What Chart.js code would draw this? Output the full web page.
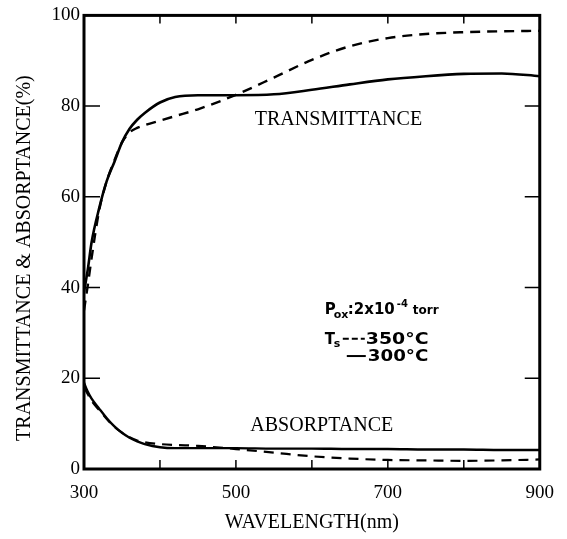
<!DOCTYPE html>
<html>
<head>
<meta charset="utf-8">
<script src="https://cdn.jsdelivr.net/npm/chart.js@4.4.1/dist/chart.umd.min.js"></script>
<style>
  html, body { margin: 0; padding: 0; background: #fff; }
  #wrap { width: 567px; height: 539px; }
</style>
</head>
<body>
<div id="wrap"><canvas id="spectra_chart" width="567" height="539"></canvas></div>
<script>
// wavelength grid (nm) and curves (%)
var wavelengths = [300, 305, 310, 320, 330, 340, 350, 360, 370, 380, 400, 420, 450, 500, 550, 600, 650, 700, 750, 800, 850, 900];
var trans_300 = [39, 44, 50, 57.5, 63.5, 67.7, 72, 75, 77, 78.5, 80.8, 82, 82.4, 82.4, 82.6, 83.6, 84.8, 85.9, 86.6, 87.1, 87.2, 86.6];
var trans_350 = [35, 40.5, 46.5, 57, 63.5, 68, 72, 74.2, 75.2, 75.8, 76.8, 77.8, 79.3, 82.5, 86.3, 90.2, 93.2, 95, 95.9, 96.3, 96.5, 96.6];
var abs_300 = [19, 17, 15.5, 13.3, 11.2, 9.4, 8, 6.9, 6.1, 5.5, 4.8, 4.6, 4.6, 4.6, 4.5, 4.5, 4.4, 4.4, 4.3, 4.3, 4.2, 4.2];
var abs_350 = [18, 16.5, 15, 13, 11, 9.3, 8, 7, 6.3, 5.9, 5.5, 5.3, 5.1, 4.4, 3.6, 2.8, 2.3, 2.0, 1.9, 1.8, 1.9, 2.1];

var x_labels = [300, 500, 700, 900];
var y_ticks = [0, 20, 40, 60, 80, 100];

function to_points(values) {
    var pts = [];
    for (var i = 0; i < wavelengths.length; i++) {
        pts.push({ x: wavelengths[i], y: values[i] });
    }
    return pts;
}

var serif = '"Liberation Serif", "DejaVu Serif", serif';
var sans = '"DejaVu Sans", "Liberation Sans", sans-serif';

// text stretched a little sideways, the scan's lettering is wide
function wide_text(ctx, text, x, y, sx) {
    ctx.save();
    ctx.translate(x, y);
    ctx.scale(sx, 1);
    ctx.fillText(text, 0, 0);
    ctx.restore();
}

// frame, inward ticks and the text annotations
var frame_plugin = {
    id: 'frame',
    afterDraw: function (chart) {
        var ctx = chart.ctx;
        var a = chart.chartArea;
        var xs = chart.scales.x;
        var ys = chart.scales.y;
        ctx.save();
        ctx.strokeStyle = '#000';
        ctx.lineWidth = 3;
        ctx.strokeRect(a.left, a.top, a.right - a.left, a.bottom - a.top);

        ctx.lineWidth = 1.5;
        ctx.beginPath();
        xs.ticks.forEach(function (t) {
            if (t.value <= xs.min || t.value >= xs.max) return;
            var px = xs.getPixelForValue(t.value);
            ctx.moveTo(px, a.bottom); ctx.lineTo(px, a.bottom - 9);
            ctx.moveTo(px, a.top); ctx.lineTo(px, a.top + 8);
        });
        ys.ticks.forEach(function (t) {
            if (t.value <= ys.min || t.value >= ys.max) return;
            var py = ys.getPixelForValue(t.value);
            ctx.moveTo(a.left, py); ctx.lineTo(a.left + 16, py);
            ctx.moveTo(a.right, py); ctx.lineTo(a.right - 15, py);
        });
        ctx.stroke();

        ctx.fillStyle = '#000';

        // y axis title
        ctx.save();
        ctx.translate(25, ys.getPixelForValue(46.5));
        ctx.rotate(-Math.PI / 2);
        ctx.font = '20px ' + serif;
        ctx.textAlign = 'center';
        ctx.textBaseline = 'middle';
        ctx.fillText('TRANSMITTANCE & ABSORPTANCE(%)', 0, 0);
        ctx.restore();

        // curve names
        ctx.font = '20px ' + serif;
        ctx.textAlign = 'center';
        ctx.textBaseline = 'middle';
        ctx.fillText('TRANSMITTANCE', xs.getPixelForValue(635), ys.getPixelForValue(77));
        ctx.fillText('ABSORPTANCE', xs.getPixelForValue(613), ys.getPixelForValue(9.6));

        // condition legend
        ctx.textAlign = 'left';
        ctx.textBaseline = 'alphabetic';
        var lx = xs.getPixelForValue(617);
        var l1 = ys.getPixelForValue(34.2);
        var l2 = ys.getPixelForValue(27.6);
        var l3 = ys.getPixelForValue(23.8);

        ctx.font = 'bold 15px ' + sans;
        ctx.fillText('P', lx, l1);
        ctx.font = 'bold 11px ' + sans;
        ctx.fillText('ox', lx + 9, l1 + 4);
        ctx.font = 'bold 15px ' + sans;
        ctx.fillText(':', lx + 23, l1);
        ctx.fillText('2x10', lx + 29, l1);
        ctx.font = 'bold 10px ' + sans;
        ctx.fillText('-4', lx + 72, l1 - 7);
        ctx.font = 'bold 12px ' + sans;
        ctx.fillText('torr', lx + 88, l1);

        ctx.font = 'bold 15px ' + sans;
        ctx.fillText('T', lx, l2);
        ctx.font = 'bold 11px ' + sans;
        ctx.fillText('s', lx + 9, l2 + 3);

        ctx.lineWidth = 2;
        ctx.beginPath();
        ctx.setLineDash([6, 3]);
        ctx.moveTo(lx + 18, l2 - 5);
        ctx.lineTo(lx + 40, l2 - 5);
        ctx.stroke();
        ctx.setLineDash([]);
        ctx.beginPath();
        ctx.moveTo(lx + 22, l3 - 5);
        ctx.lineTo(lx + 41, l3 - 5);
        ctx.stroke();

        ctx.font = 'bold 16px ' + sans;
        wide_text(ctx, '350\u00b0C', lx + 41, l2, 1.18);
        wide_text(ctx, '300\u00b0C', lx + 43, l3, 1.14);
        ctx.restore();
    }
};

var spectra_chart = new Chart(document.getElementById('spectra_chart').getContext('2d'), {
    type: 'line',
    data: {
        datasets: [
            { label: 'T 300C', data: to_points(trans_300), borderColor: '#000', borderWidth: 2.6 },
            { label: 'T 350C', data: to_points(trans_350), borderColor: '#000', borderWidth: 2.4, borderDash: [10, 7] },
            { label: 'A 300C', data: to_points(abs_300), borderColor: '#000', borderWidth: 2.4 },
            { label: 'A 350C', data: to_points(abs_350), borderColor: '#000', borderWidth: 2.2, borderDash: [10, 7] }
        ]
    },
    options: {
        responsive: false,
        animation: false,
        layout: { padding: { top: 13, right: 23, left: 0, bottom: 0 } },
        elements: {
            point: { radius: 0 },
            line: { cubicInterpolationMode: 'monotone', fill: false }
        },
        plugins: {
            legend: { display: false },
            tooltip: { enabled: false }
        },
        scales: {
            x: {
                type: 'linear',
                min: 300,
                max: 900,
                grid: { display: false, drawTicks: false },
                border: { display: false },
                ticks: {
                    stepSize: 100,
                    padding: 13,
                    color: '#000',
                    font: { family: serif, size: 19 },
                    maxRotation: 0,
                    callback: function (v) {
                        return x_labels.indexOf(v) >= 0 ? String(v) : '';
                    }
                },
                title: {
                    display: true,
                    text: 'WAVELENGTH(nm)',
                    color: '#000',
                    font: { family: serif, size: 20 },
                    padding: { top: 7 }
                },
                afterFit: function (scale) { scale.height = 70; }
            },
            y: {
                min: 0,
                max: 100,
                grid: { display: false, drawTicks: false },
                border: { display: false },
                ticks: {
                    stepSize: 20,
                    padding: 4,
                    color: '#000',
                    font: { family: serif, size: 19 },
                    callback: function (v) {
                        return y_ticks.indexOf(v) >= 0 ? String(v) : '';
                    }
                },
                afterFit: function (scale) { scale.width = 84; }
            }
        }
    },
    plugins: [frame_plugin]
});
</script>
</body>
</html>
